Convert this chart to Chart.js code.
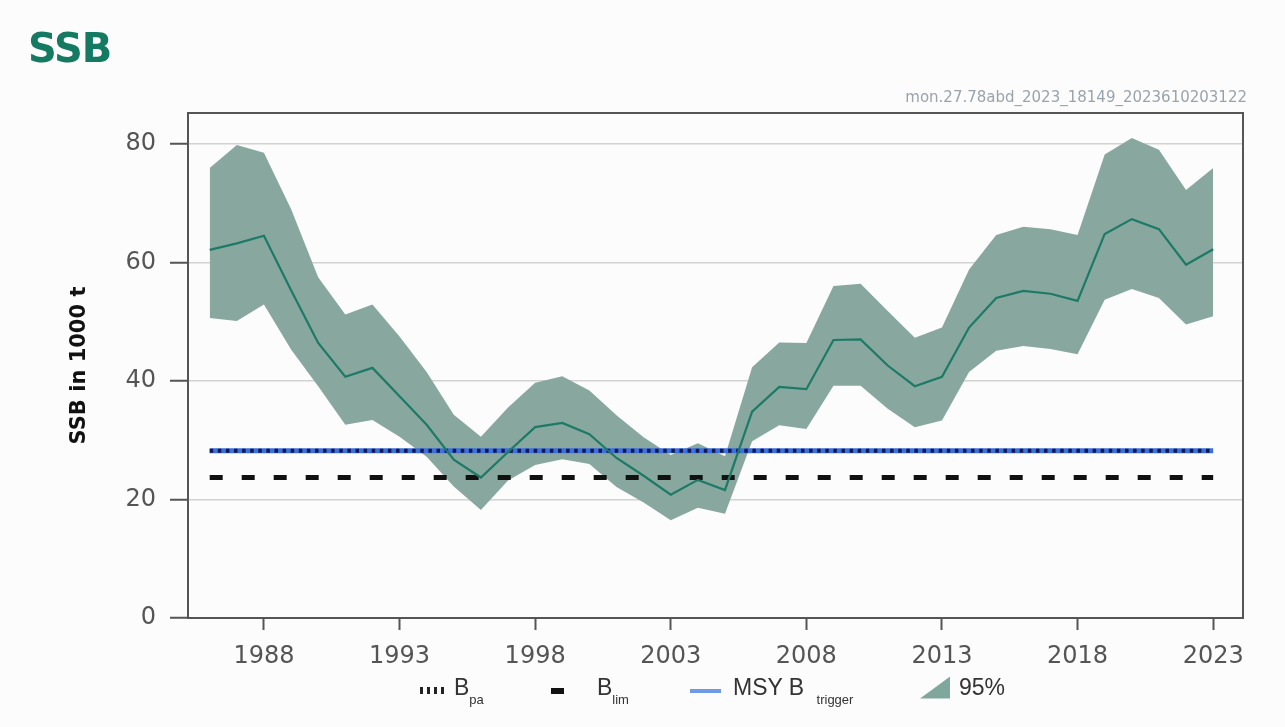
<!DOCTYPE html>
<html>
<head>
<meta charset="utf-8">
<script src="https://cdn.jsdelivr.net/npm/chart.js@4"></script>
<style>
  body { margin: 0; background: #fcfcfc; width: 1285px; height: 727px; overflow: hidden; position: relative; font-family: "DejaVu Sans", sans-serif; }
  #chartCanvas { position: absolute; left: 0; top: 0; }
  #title { position: absolute; left: 28px; top: 25px; font: bold 40px "DejaVu Sans", sans-serif; color: #157a62; letter-spacing: -1px; }
  #runId { position: absolute; right: 38px; top: 88px; font-size: 15px; color: #9aa3ab; }
  .leg { position: absolute; top: 674px; display: flex; align-items: center; font: 23px "Liberation Sans", Arial, sans-serif; color: #333; white-space: nowrap; }
  .leg sub { font-size: 13px; vertical-align: -9px; }
  .dots { width: 26px; height: 7px; background: repeating-linear-gradient(90deg, #222 0 3px, transparent 3px 7px); margin-right: 8px; }
  .dash { width: 13px; height: 6px; background: #111; margin-right: 33px; }
  .blue { width: 31px; height: 4px; background: #6d9be8; margin-right: 12px; }
  .tri { width: 30px; height: 22px; background: #80a79b; clip-path: polygon(100% 0, 100% 100%, 0 100%); margin-right: 9px; }
</style>
</head>
<body>
<canvas id="chartCanvas" width="1285" height="727"></canvas>
<div id="title">SSB</div>
<div id="runId">mon.27.78abd_2023_18149_2023610203122</div>
<div class="leg" style="left:420px"><span class="dots"></span><span>B<sub>pa</sub></span></div>
<div class="leg" style="left:551px"><span class="dash"></span><span>B<sub>lim</sub></span></div>
<div class="leg" style="left:690px"><span class="blue"></span><span>MSY B <sub style="margin-left:6px">trigger</sub></span></div>
<div class="leg" style="left:920px"><span class="tri"></span><span>95%</span></div>
<script>
const years = [1986, 1987, 1988, 1989, 1990, 1991, 1992, 1993, 1994, 1995,
  1996, 1997, 1998, 1999, 2000, 2001, 2002, 2003, 2004, 2005,
  2006, 2007, 2008, 2009, 2010, 2011, 2012, 2013, 2014, 2015,
  2016, 2017, 2018, 2019, 2020, 2021, 2022, 2023];
const ssb = [62.1, 63.2, 64.5, 55.3, 46.4, 40.7, 42.2, 37.4, 32.6, 26.7,
  23.7, 28.0, 32.2, 32.9, 31.0, 27.0, 24.0, 20.8, 23.3, 21.6,
  34.8, 39.0, 38.6, 46.9, 47.0, 42.6, 39.1, 40.7, 49.0, 54.0,
  55.2, 54.7, 53.5, 64.8, 67.3, 65.6, 59.6, 62.2];
const ssbHigh = [75.9, 79.8, 78.5, 69.0, 57.5, 51.2, 52.9, 47.5, 41.5, 34.3,
  30.6, 35.5, 39.7, 40.8, 38.4, 34.2, 30.5, 27.5, 29.5, 27.3,
  42.3, 46.5, 46.4, 56.0, 56.4, 51.8, 47.3, 49.0, 58.8, 64.6,
  66.0, 65.6, 64.6, 78.2, 81.0, 79.0, 72.2, 75.9];
const ssbLow = [50.6, 50.1, 52.9, 45.3, 39.1, 32.6, 33.4, 30.6, 27.2, 22.2,
  18.2, 23.2, 25.8, 26.8, 26.0, 22.1, 19.5, 16.5, 18.6, 17.6,
  29.8, 32.5, 31.9, 39.2, 39.2, 35.3, 32.2, 33.3, 41.5, 45.1,
  45.9, 45.4, 44.5, 53.7, 55.5, 54.0, 49.5, 50.9];
const bpa = 28.2;
const msyBtrigger = 28.2;
const blim = 23.7;
const xTicks = [1988, 1993, 1998, 2003, 2008, 2013, 2018, 2023];
const yTicks = [0, 20, 40, 60, 80];

function pts(vals) {
  return years.map((y, i) => ({ x: y, y: vals[i] }));
}
function flat(v) {
  return [{ x: years[0], y: v }, { x: years[years.length - 1], y: v }];
}

// frame round the plot area
const frame = {
  id: 'frame',
  afterDraw(c) {
    const { ctx, chartArea: a } = c;
    ctx.save();
    ctx.strokeStyle = '#555';
    ctx.lineWidth = 2;
    ctx.strokeRect(a.left, a.top, a.right - a.left, a.bottom - a.top);
    ctx.restore();
  }
};

const tickFont = { family: 'DejaVu Sans', size: 24 };

new Chart(document.getElementById('chartCanvas').getContext('2d'), {
  type: 'line',
  data: {
    datasets: [
      { label: 'SSB', data: pts(ssb), borderColor: '#1c7a66', borderWidth: 2.2, pointRadius: 0, order: 1 },
      { label: 'Bpa', data: flat(bpa), borderColor: '#0f1a55', borderWidth: 4, borderDash: [3.5, 4.6], pointRadius: 0, order: 2 },
      { label: 'MSY Btrigger', data: flat(msyBtrigger), borderColor: '#3f6fd8', borderWidth: 5, pointRadius: 0, order: 3 },
      { label: 'Blim', data: flat(blim), borderColor: '#111', borderWidth: 5, borderDash: [13, 19], pointRadius: 0, order: 4 },
      { label: 'low', data: pts(ssbLow), borderWidth: 0, pointRadius: 0, fill: false, order: 6 },
      { label: '95%', data: pts(ssbHigh), borderWidth: 0, pointRadius: 0, fill: '-1', backgroundColor: '#88a89f', order: 5 }
    ]
  },
  options: {
    responsive: false,
    animation: false,
    layout: { padding: { top: 113, right: 42, left: 0, bottom: 0 } },
    plugins: { legend: { display: false }, tooltip: { enabled: false } },
    scales: {
      x: {
        type: 'linear', min: 1985.2, max: 2024.1,
        afterBuildTicks: s => { s.ticks = xTicks.map(v => ({ value: v })); },
        afterFit: s => { s.height = 109; },
        ticks: { callback: v => String(v), font: tickFont, color: '#555', padding: 12, maxRotation: 0, autoSkip: false },
        grid: { drawOnChartArea: false, tickLength: 12, tickColor: '#555', tickWidth: 2 },
        border: { color: '#555', width: 2 }
      },
      y: {
        min: 0, max: 85.2,
        afterBuildTicks: s => { s.ticks = yTicks.map(v => ({ value: v })); },
        afterFit: s => { s.width = 188; },
        ticks: { font: tickFont, color: '#555', padding: 14 },
        grid: { color: '#d2d2d2', lineWidth: 1.5, tickLength: 18, tickColor: '#555', tickWidth: 2 },
        border: { color: '#555', width: 2 },
        title: { display: true, text: 'SSB in 1000 t', color: '#111', font: { family: 'DejaVu Sans', size: 21, weight: 'bold' }, padding: { top: 67 } }
      }
    }
  },
  plugins: [frame]
});
</script>
</body>
</html>
